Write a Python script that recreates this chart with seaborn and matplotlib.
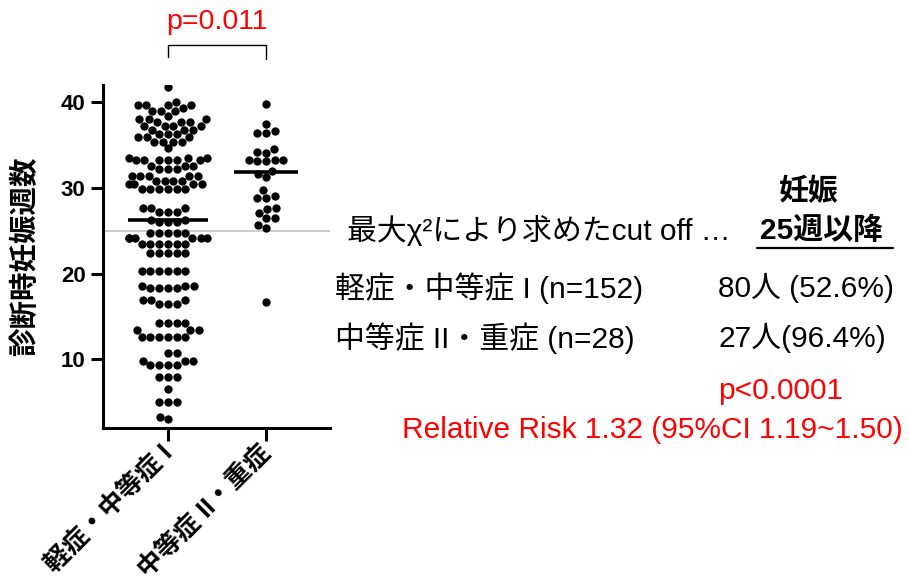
import numpy as np
import pandas as pd
import matplotlib
matplotlib.use("Agg")
import matplotlib.pyplot as plt
import seaborn as sns
from matplotlib.lines import Line2D

# ---------------- data ----------------
categories = ["軽症・中等症 I", "中等症 II・重症"]

mild_weeks = [
    41.8, 40.0, 39.7, 39.7, 39.7, 39.7, 39.3, 39.0, 39.0, 39.0, 38.4,
    38.0, 38.0, 38.0, 37.7, 37.7, 37.7, 37.2, 37.2, 37.2, 37.2,
    36.8, 36.8, 36.8, 36.3, 36.3, 36.3, 35.9, 35.9, 35.9,
    35.4, 35.4, 35.4, 35.4, 34.6,
    33.5, 33.5, 33.5, 33.2, 33.2, 33.2, 33.2, 33.2, 33.2,
    32.6, 32.6, 32.6, 32.2, 32.2, 32.2, 31.4, 31.4, 31.4, 31.4, 31.4,
    30.8, 30.8, 30.8, 30.8, 30.4, 30.4, 30.4, 30.4,
    29.9, 29.9, 29.9, 29.9, 29.9, 29.9,
    27.6, 27.6, 27.6, 27.2, 27.2, 27.2, 26.3, 26.3, 26.0, 26.0, 26.0,
    24.7, 24.7, 24.7, 24.7, 24.7, 24.1, 24.1, 24.1, 24.1, 24.1, 24.1,
    23.5, 23.5, 23.5, 23.5, 23.5, 23.5, 22.4, 22.4, 22.4, 22.4, 22.4,
    20.3, 20.3, 20.3, 20.3, 20.3, 20.3, 18.6, 18.6, 18.6, 18.3, 18.3, 18.3, 18.3,
    16.9, 16.9, 16.9, 16.5, 16.5, 16.5, 14.3, 14.3, 14.3, 14.3,
    13.4, 13.4, 13.4, 12.6, 12.6, 12.6, 12.6, 12.6, 12.6,
    10.7, 10.7, 9.8, 9.8, 9.8, 9.4, 9.4, 9.4, 9.4,
    7.9, 7.9, 7.9, 6.6, 5.0, 5.0, 5.0, 3.3, 3.0,
]

severe_weeks = [
    39.8, 37.5, 36.6, 36.4, 36.4, 34.5, 34.2, 34.1, 33.3, 33.3, 33.3,
    33.1, 33.1, 32.0, 31.6, 31.3, 29.7, 29.0, 28.8, 28.8, 27.7, 27.5,
    27.1, 26.5, 26.5, 25.7, 25.3, 16.7,
]

yticks = [10, 20, 30, 40]
cutoff_week = 25
p_groups = "p=0.011"

# ---------------- style ----------------
sns.set_style("ticks")
plt.rcParams["font.family"] = ["Liberation Sans", "Noto Sans CJK JP", "DejaVu Sans"]
for k in ["text.color", "axes.labelcolor", "xtick.color", "ytick.color",
          "axes.edgecolor"]:
    plt.rcParams[k] = "black"

W, H = 909, 585
fig = plt.figure(figsize=(W / 100, H / 100), dpi=100)


def fx(px):
    return px / W


def fy(py):
    return 1 - py / H


ax = fig.add_axes([fx(103), fy(428), fx(330) - fx(103), fy(85) - fy(428)])

df = pd.DataFrame({
    "group": [categories[0]] * len(mild_weeks) + [categories[1]] * len(severe_weeks),
    "weeks": mild_weeks + severe_weeks,
})

ax.axhline(cutoff_week, color="#c8c8c8", lw=1.3, zorder=0)

sns.swarmplot(data=df, x="group", y="weeks", order=categories, color="black",
              size=6.0, linewidth=0, ax=ax, zorder=3, warn_thresh=1.0)

ax.hlines(np.median(mild_weeks), -0.41, 0.41, color="black", lw=2.6, zorder=4)
ax.hlines(np.median(severe_weeks), 1 - 0.33, 1 + 0.33, color="black", lw=2.6, zorder=4)

ax.set_xlim(-0.663, 1.653)
ax.set_ylim(2, 42)
ax.set_yticks(yticks)
ax.set_xlabel("")
ax.set_ylabel("")

for s in ["top", "right"]:
    ax.spines[s].set_visible(False)
for s in ["left", "bottom"]:
    ax.spines[s].set_linewidth(2.2)

ax.tick_params(axis="both", direction="out", length=9, width=2.2,
               colors="black")
for lab in ax.get_yticklabels():
    lab.set_fontsize(16)
    lab.set_fontweight("bold")
ax.set_xticks([0, 1])
ax.set_xticklabels(categories, rotation=45, ha="right", va="center",
                   rotation_mode="anchor", fontsize=18.5, fontweight="bold")
ax.tick_params(axis="x", pad=6)

# bracket + p value
ax.plot([0, 0, 1, 1], [45.3, 46.7, 46.7, 45.0], color="black", lw=1.0,
        clip_on=False)
ax.text(0.5, 49.3, p_groups, color="red", fontsize=20.5, ha="center",
        va="center", clip_on=False)

# y label
fig.text(fx(25), fy(256), "診断時妊娠週数", rotation=90, ha="center",
         va="center", fontsize=20.5, fontweight="bold")

# right-hand annotations
fs = 21.5
fig.text(fx(809), fy(192), "妊娠", ha="center", va="center", fontsize=fs,
         fontweight="bold")
fig.text(fx(347), fy(231), "最大χ²により求めたcut off …", ha="left",
         va="center", fontsize=fs)
fig.text(fx(760), fy(231), "25週以降", ha="left", va="center", fontsize=fs,
         fontweight="bold")
fig.add_artist(Line2D([fx(757), fx(893)], [fy(248), fy(248)], color="black",
                      lw=1.6, transform=fig.transFigure))

fig.text(fx(335), fy(288), "軽症・中等症 I (n=152)", ha="left", va="center",
         fontsize=fs)
fig.text(fx(718), fy(288), "80人 (52.6%)", ha="left", va="center", fontsize=fs)
fig.text(fx(335), fy(338), "中等症 II・重症 (n=28)", ha="left", va="center",
         fontsize=fs)
fig.text(fx(718), fy(338), "27人(96.4%)", ha="left", va="center", fontsize=fs)

fig.text(fx(718), fy(391), "p<0.0001", ha="left", va="center", fontsize=fs,
         color="red")
fig.text(fx(402), fy(430), "Relative Risk 1.32 (95%CI 1.19~1.50)", ha="left",
         va="center", fontsize=fs, color="red")

fig.savefig("out.png", dpi=100)
